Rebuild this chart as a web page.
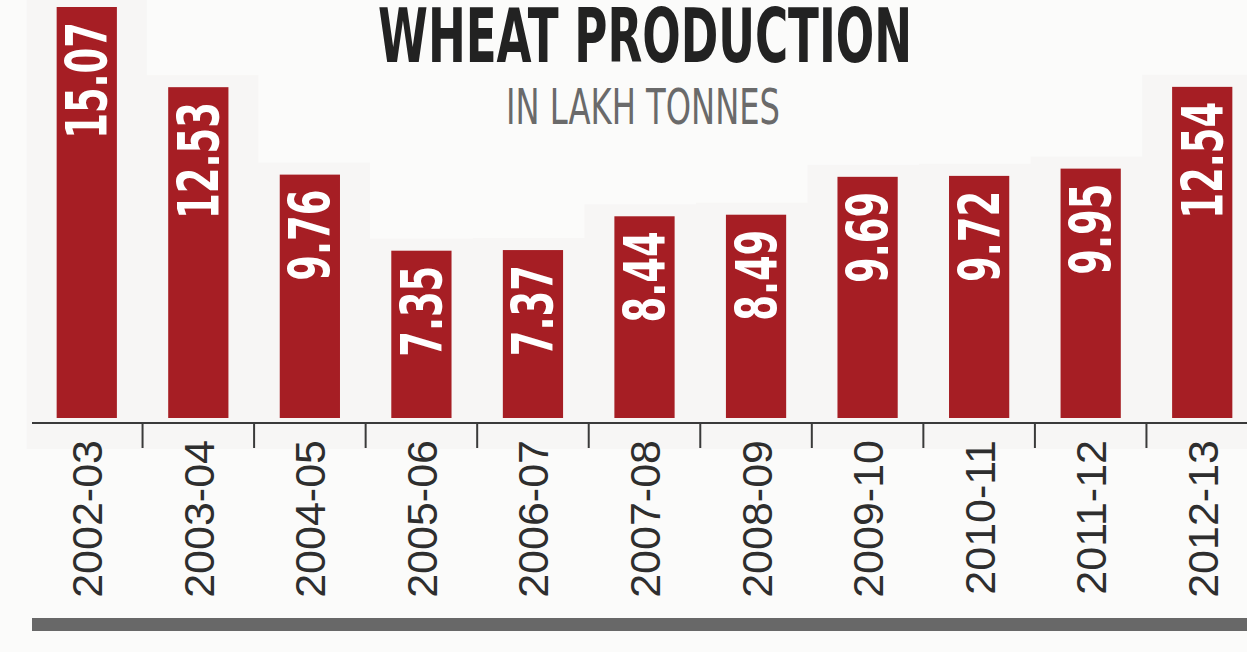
<!DOCTYPE html>
<html>
<head>
<meta charset="utf-8">
<script src="https://cdn.jsdelivr.net/npm/d3@7"></script>
<style>
  body { margin: 0; background: #fbfbfa; }
  svg { display: block; }
</style>
</head>
<body>
<div id="chart"></div>
<script>
// data
var years = ["2002-03", "2003-04", "2004-05", "2005-06", "2006-07", "2007-08",
  "2008-09", "2009-10", "2010-11", "2011-12", "2012-13"];
var production = [15.07, 12.53, 9.76, 7.35, 7.37, 8.44, 8.49, 9.69, 9.72, 9.95, 12.54];

var svgWidth = 1247;
var svgHeight = 652;
var baseY = 418;
var axisY = 423;
var condensed = "'Liberation Sans Narrow', 'DejaVu Sans Condensed', sans-serif";

var svg = d3
  .select("#chart")
  .append("svg")
  .attr("width", svgWidth)
  .attr("height", svgHeight);

// x band scale, bars spaced ~111px apart
var xScale = d3
  .scaleBand()
  .domain(years)
  .range([31, 1258])
  .paddingInner(0.46)
  .paddingOuter(0.23);

// the printed bars do not start at zero
var yScale = d3
  .scaleLinear()
  .domain([2.05, 15.07])
  .range([baseY, 7]);

// very faint halos behind bars (scan artefact in the print)
svg
  .selectAll("rect.halo")
  .data(years)
  .enter()
  .append("rect")
  .attr("class", "halo")
  .attr("x", d => xScale(d) - 30)
  .attr("y", (d, i) => yScale(production[i]) - 12)
  .attr("width", xScale.bandwidth() + 60)
  .attr("height", (d, i) => axisY + 26 - yScale(production[i]) + 12)
  .attr("fill", "#f7f6f5");

// squeeze a text horizontally to a given width
function fitWidth(sel, cx, y, w) {
  var natural = sel.node().getComputedTextLength();
  sel.attr("transform", `translate(${cx}, ${y}) scale(${w / natural}, 1)`);
}

// title
var title = svg
  .append("text")
  .attr("text-anchor", "middle")
  .attr("font-family", condensed)
  .attr("font-weight", "bold")
  .attr("font-size", 74)
  .attr("fill", "#222")
  .text("WHEAT PRODUCTION");
fitWidth(title, 645, 62, 534);

var subtitle = svg
  .append("text")
  .attr("text-anchor", "middle")
  .attr("font-family", condensed)
  .attr("font-size", 49)
  .attr("fill", "#6a6a6a")
  .text("IN LAKH TONNES");
fitWidth(subtitle, 643, 124, 274);

// bars
svg
  .selectAll("rect.bar")
  .data(years)
  .enter()
  .append("rect")
  .attr("class", "bar")
  .attr("x", d => xScale(d))
  .attr("y", (d, i) => yScale(production[i]))
  .attr("width", xScale.bandwidth())
  .attr("height", (d, i) => baseY - yScale(production[i]))
  .attr("fill", "#a61e24");

// value labels inside bars
svg
  .selectAll("text.value")
  .data(years)
  .enter()
  .append("text")
  .attr("class", "value")
  .attr("transform", (d, i) =>
    `translate(${xScale(d) + xScale.bandwidth() / 2}, ${yScale(production[i]) + 15}) rotate(-90) scale(0.72, 1)`)
  .attr("dy", "0.36em")
  .attr("text-anchor", "end")
  .attr("font-family", condensed)
  .attr("font-weight", "bold")
  .attr("font-size", 57)
  .attr("fill", "#fff")
  .text((d, i) => production[i].toFixed(2));

// axis line and ticks between categories
svg
  .append("line")
  .attr("x1", 32)
  .attr("x2", svgWidth)
  .attr("y1", axisY)
  .attr("y2", axisY)
  .attr("stroke", "#3a3a3a")
  .attr("stroke-width", 2);

svg
  .selectAll("line.tick")
  .data(years)
  .enter()
  .append("line")
  .attr("class", "tick")
  .attr("x1", d => xScale(d) + xScale.bandwidth() + xScale.step() * 0.23)
  .attr("x2", d => xScale(d) + xScale.bandwidth() + xScale.step() * 0.23)
  .attr("y1", axisY)
  .attr("y2", axisY + 25)
  .attr("stroke", "#3a3a3a")
  .attr("stroke-width", 2);

// category labels
svg
  .selectAll("text.year")
  .data(years)
  .enter()
  .append("text")
  .attr("class", "year")
  .attr("transform", d => `translate(${xScale(d) + xScale.bandwidth() / 2}, 440) rotate(-90)`)
  .attr("dy", "0.36em")
  .attr("text-anchor", "end")
  .attr("font-family", "'Liberation Sans', Arial, sans-serif")
  .attr("font-size", 43)
  .attr("fill", "#2e2e2e")
  .text(d => d);

// thick rule at the bottom
svg
  .append("rect")
  .attr("x", 32)
  .attr("y", 618)
  .attr("width", svgWidth - 32)
  .attr("height", 13)
  .attr("fill", "#686868");
</script>
</body>
</html>
